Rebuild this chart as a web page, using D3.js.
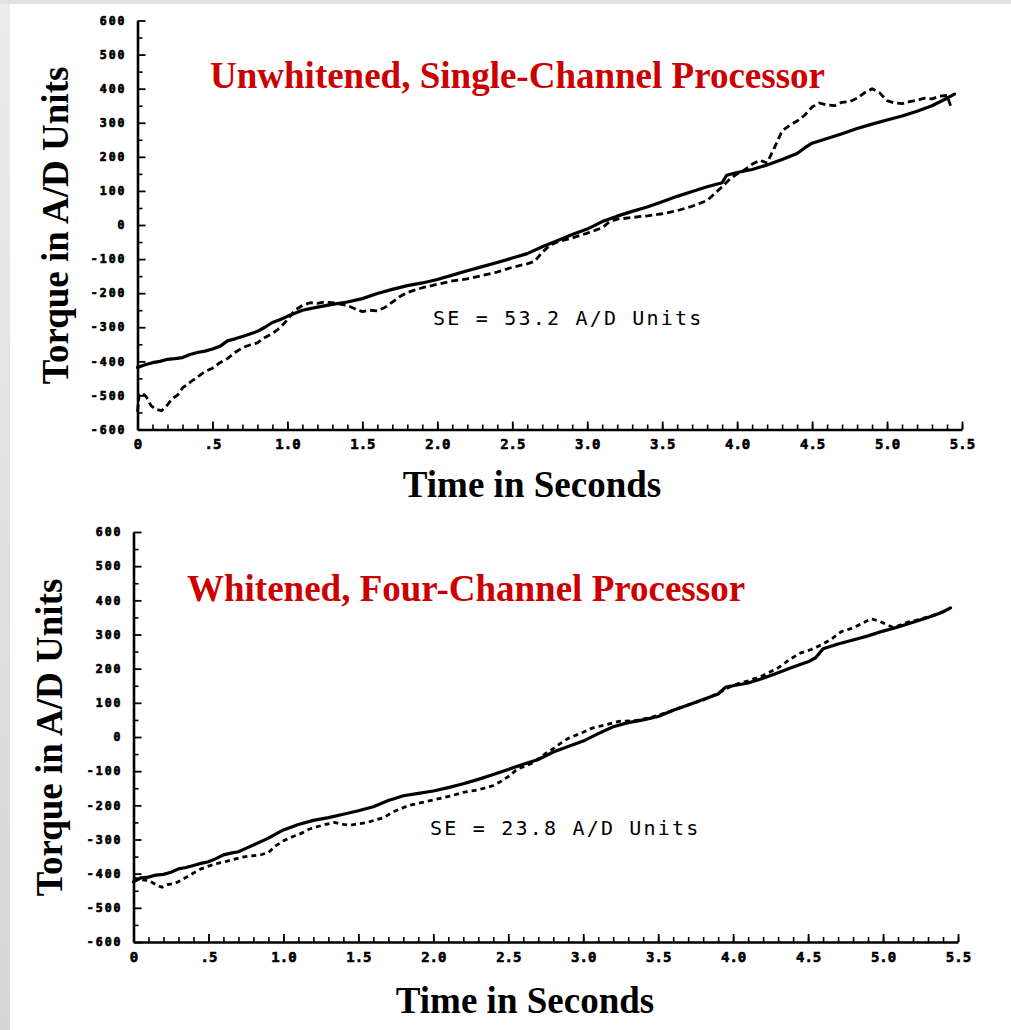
<!DOCTYPE html>
<html>
<head>
<meta charset="utf-8">
<script src="https://cdn.jsdelivr.net/npm/d3@7"></script>
<style>
  html, body { margin: 0; padding: 0; background: #ffffff; }
  svg { display: block; }
</style>
</head>
<body>
<svg id="chart" width="1011" height="1030"></svg>
<script>
// ---- Torque estimates: actual (solid) vs. estimated (dashed), A/D units over time (s) ----

// Upper panel: unwhitened, single-channel processor
const topSolidTime = [0,0.05,0.1,0.15,0.2,0.25,0.3,0.35,0.4,0.45,0.5,0.55,0.6,0.65,0.7,0.75,0.8,0.85,0.9,0.95,1.0,1.1,1.2,1.3,1.4,1.5,1.6,1.7,1.8,1.9,2.0,2.1,2.2,2.3,2.4,2.5,2.6,2.7,2.8,2.9,3.0,3.1,3.2,3.3,3.4,3.5,3.6,3.7,3.8,3.9,3.93,4.0,4.1,4.2,4.3,4.4,4.45,4.5,4.6,4.7,4.8,4.9,5.0,5.1,5.2,5.3,5.4,5.45];
const topSolid = [-418,-410,-404,-400,-394,-392,-389,-380,-374,-370,-364,-356,-340,-334,-327,-320,-312,-300,-286,-278,-268,-250,-241,-233,-226,-216,-201,-189,-178,-170,-160,-147,-134,-122,-110,-97,-84,-64,-46,-28,-12,10,26,40,53,68,84,98,112,124,146,154,163,176,192,210,226,240,254,268,283,296,308,320,334,350,372,384];

const topDashTime = [0,0.01,0.03,0.06,0.09,0.12,0.16,0.2,0.23,0.27,0.3,0.35,0.4,0.45,0.5,0.55,0.6,0.65,0.7,0.75,0.8,0.85,0.9,0.95,1.0,1.05,1.1,1.15,1.2,1.25,1.3,1.35,1.4,1.45,1.5,1.55,1.6,1.65,1.7,1.75,1.8,1.9,2.0,2.1,2.2,2.3,2.4,2.5,2.6,2.65,2.7,2.75,2.8,2.9,3.0,3.1,3.15,3.2,3.3,3.4,3.5,3.6,3.7,3.8,3.85,3.9,3.95,4.0,4.05,4.1,4.15,4.2,4.25,4.3,4.35,4.4,4.45,4.5,4.55,4.6,4.65,4.7,4.75,4.8,4.85,4.9,4.95,5.0,5.05,5.1,5.15,5.2,5.25,5.3,5.35,5.4,5.43];
const topDashed = [-548,-500,-492,-505,-530,-540,-545,-528,-510,-498,-478,-462,-446,-430,-420,-404,-392,-374,-360,-352,-346,-330,-318,-302,-278,-250,-236,-228,-230,-226,-228,-232,-236,-246,-254,-250,-252,-242,-226,-210,-198,-184,-174,-164,-158,-148,-138,-124,-114,-106,-80,-60,-50,-38,-24,-8,10,17,22,27,33,42,55,72,92,112,134,150,162,178,190,182,228,276,292,305,322,346,358,352,350,360,362,372,388,400,388,365,358,356,362,366,372,370,378,380,342];

// Lower panel: whitened, four-channel processor
const botSolidTime = [0,0.05,0.1,0.15,0.2,0.25,0.3,0.35,0.4,0.45,0.5,0.55,0.6,0.65,0.7,0.75,0.8,0.9,1.0,1.1,1.2,1.3,1.4,1.5,1.6,1.7,1.8,1.9,2.0,2.1,2.2,2.3,2.4,2.5,2.6,2.7,2.8,2.9,3.0,3.1,3.2,3.3,3.4,3.5,3.6,3.7,3.8,3.9,3.95,4.0,4.1,4.2,4.3,4.4,4.5,4.55,4.6,4.7,4.8,4.9,5.0,5.1,5.2,5.3,5.4,5.45];
const botSolid = [-424,-412,-410,-404,-402,-396,-386,-382,-376,-370,-365,-356,-345,-340,-336,-326,-316,-296,-272,-256,-244,-236,-226,-216,-204,-186,-172,-165,-158,-148,-137,-124,-110,-95,-80,-66,-44,-28,-12,10,30,42,50,60,78,94,110,126,146,150,158,172,188,205,220,232,258,272,284,296,310,322,336,350,366,378];

const botDashTime = [0,0.05,0.1,0.15,0.19,0.23,0.28,0.33,0.4,0.45,0.5,0.56,0.62,0.67,0.72,0.78,0.84,0.9,0.95,1.0,1.06,1.12,1.17,1.23,1.28,1.34,1.4,1.45,1.5,1.56,1.62,1.67,1.72,1.78,1.84,1.9,2.0,2.06,2.12,2.2,2.28,2.34,2.4,2.45,2.5,2.56,2.62,2.67,2.75,2.8,2.85,2.9,3.0,3.06,3.15,3.24,3.35,3.46,3.6,3.7,3.8,3.9,4.0,4.1,4.2,4.3,4.38,4.45,4.52,4.6,4.66,4.72,4.79,4.86,4.92,4.97,5.02,5.07,5.15,5.24,5.35,5.44];
const botDashed = [-412,-418,-420,-432,-440,-432,-428,-416,-398,-386,-378,-370,-364,-358,-352,-348,-346,-338,-318,-304,-292,-282,-270,-262,-256,-250,-256,-258,-254,-250,-242,-236,-222,-210,-200,-194,-184,-178,-172,-162,-156,-150,-142,-130,-116,-94,-84,-74,-48,-34,-18,-4,14,26,36,46,48,58,78,94,108,128,152,164,180,202,228,246,256,272,288,308,318,332,346,340,330,320,334,344,358,374];

// Axis ticks and labels
const xTicks = [0,0.5,1.0,1.5,2.0,2.5,3.0,3.5,4.0,4.5,5.0,5.5];
const xTickLabels = ["0",".5","1.0","1.5","2.0","2.5","3.0","3.5","4.0","4.5","5.0","5.5"];
const yTicks = [600,500,400,300,200,100,0,-100,-200,-300,-400,-500,-600];
const yTickLabels = ["600","500","400","300","200","100","0","-100","-200","-300","-400","-500","-600"];

const panelTitles = ["Unwhitened, Single-Channel Processor", "Whitened, Four-Channel Processor"];
const seLabels = ["SE = 53.2 A/D Units", "SE = 23.8 A/D Units"];
const xTitle = "Time in Seconds";
const yTitle = "Torque in A/D Units";

const svg = d3.select("#chart");

// light frame along the top and left edges
const defs = svg.append("defs");
const grad = defs.append("linearGradient").attr("id", "edge").attr("x1", 0).attr("y1", 0).attr("x2", 0).attr("y2", 1);
grad.append("stop").attr("offset", "0%").attr("stop-color", "#ececec");
grad.append("stop").attr("offset", "100%").attr("stop-color", "#d6d6d6");
svg.append("rect").attr("x", 0).attr("y", 0).attr("width", 10).attr("height", 1030).attr("fill", "url(#edge)");
svg.append("rect").attr("x", 0).attr("y", 0).attr("width", 1011).attr("height", 4).attr("fill", "#e2e2e2");

const panels = [
  { left: 137.5, right: 962, top: 20.5, bottom: 429.5,
    solidT: topSolidTime, solid: topSolid, dashT: topDashTime, dashed: topDashed,
    titleX: 210, titleY: 88, seX: 433, seY: 325, xTitleX: 532, xTitleY: 497, yTitleX: 68, yTitleY: 225.5, dash: "7,4" },
  { left: 133.5, right: 958, top: 532, bottom: 942,
    solidT: botSolidTime, solid: botSolid, dashT: botDashTime, dashed: botDashed,
    titleX: 187, titleY: 601, seX: 430, seY: 835, xTitleX: 525, xTitleY: 1013, yTitleX: 62, yTitleY: 737.5, dash: "5,4" }
];

panels.forEach((p, i) => {
  const g = svg.append("g");
  const x = d3.scaleLinear().domain([0, 5.5]).range([p.left, p.right]);
  const y = d3.scaleLinear().domain([-600, 600]).range([p.bottom, p.top]);

  // minor ticks (0.1 s, 50 units)
  g.append("g").attr("transform", `translate(0,${p.bottom})`)
    .call(d3.axisBottom(x).tickValues(d3.range(0, 5.501, 0.1)).tickSize(-5).tickSizeOuter(0).tickFormat(""))
    .call(a => a.select(".domain").remove())
    .selectAll("line").attr("stroke", "#000").attr("stroke-width", 1.6);
  g.append("g").attr("transform", `translate(${p.left},0)`)
    .call(d3.axisLeft(y).tickValues(d3.range(-550, 600, 100)).tickSize(-5).tickSizeOuter(0).tickFormat(""))
    .call(a => a.select(".domain").remove())
    .selectAll("line").attr("stroke", "#000").attr("stroke-width", 1.6);

  // major ticks with labels
  const xa = g.append("g").attr("transform", `translate(0,${p.bottom})`)
    .call(d3.axisBottom(x).tickValues(xTicks).tickSize(-8).tickSizeOuter(0).tickPadding(10)
      .tickFormat((d, k) => xTickLabels[k]));
  xa.selectAll("line").attr("stroke", "#000").attr("stroke-width", 1.8);
  xa.select(".domain").attr("stroke", "#000").attr("stroke-width", 2.6);
  xa.selectAll("text").attr("fill", "#000").attr("stroke", "#000").attr("stroke-width", 0.6)
    .style("font-family", "'DejaVu Sans Mono', monospace").style("font-weight", "bold").style("font-size", "14px");

  const ya = g.append("g").attr("transform", `translate(${p.left},0)`)
    .call(d3.axisLeft(y).tickValues(yTicks).tickSize(-8).tickSizeOuter(0).tickPadding(11)
      .tickFormat((d, k) => yTickLabels[k]));
  ya.selectAll("line").attr("stroke", "#000").attr("stroke-width", 1.8);
  ya.select(".domain").attr("stroke", "#000").attr("stroke-width", 2.6);
  ya.selectAll("text").attr("fill", "#000").attr("stroke", "#000").attr("stroke-width", 0.7)
    .style("font-family", "'DejaVu Sans Mono', monospace").style("font-weight", "bold").style("font-size", "11.5px")
    .style("letter-spacing", "2px");

  // data lines
  const line = (tArr) => d3.line().x((d, k) => x(tArr[k])).y(d => y(d));
  g.append("path").datum(p.solid)
    .attr("d", line(p.solidT))
    .attr("fill", "none").attr("stroke", "#000").attr("stroke-width", 3.2)
    .attr("stroke-linejoin", "round").attr("stroke-linecap", "round");
  g.append("path").datum(p.dashed)
    .attr("d", line(p.dashT))
    .attr("fill", "none").attr("stroke", "#000").attr("stroke-width", 2.8)
    .attr("stroke-dasharray", p.dash).attr("stroke-linejoin", "round");

  // panel title
  g.append("text").attr("x", p.titleX).attr("y", p.titleY)
    .attr("fill", "#cc0000")
    .style("font-family", "'Liberation Serif', 'Times New Roman', serif").style("font-weight", "bold").style("font-size", "37px")
    .text(panelTitles[i]);

  // standard error note
  g.append("text").attr("x", p.seX).attr("y", p.seY)
    .attr("fill", "#000")
    .style("font-family", "'DejaVu Sans Mono', monospace").style("font-size", "20px").style("letter-spacing", "2.2px")
    .text(seLabels[i]);

  // axis titles
  g.append("text").attr("x", p.xTitleX).attr("y", p.xTitleY).attr("text-anchor", "middle")
    .attr("fill", "#000")
    .style("font-family", "'Liberation Serif', 'Times New Roman', serif").style("font-weight", "bold").style("font-size", "37px")
    .text(xTitle);
  g.append("text")
    .attr("transform", `translate(${p.yTitleX},${p.yTitleY}) rotate(-90)`)
    .attr("text-anchor", "middle").attr("fill", "#000")
    .style("font-family", "'Liberation Serif', 'Times New Roman', serif").style("font-weight", "bold").style("font-size", "37px")
    .text(yTitle);
});
</script>
</body>
</html>
